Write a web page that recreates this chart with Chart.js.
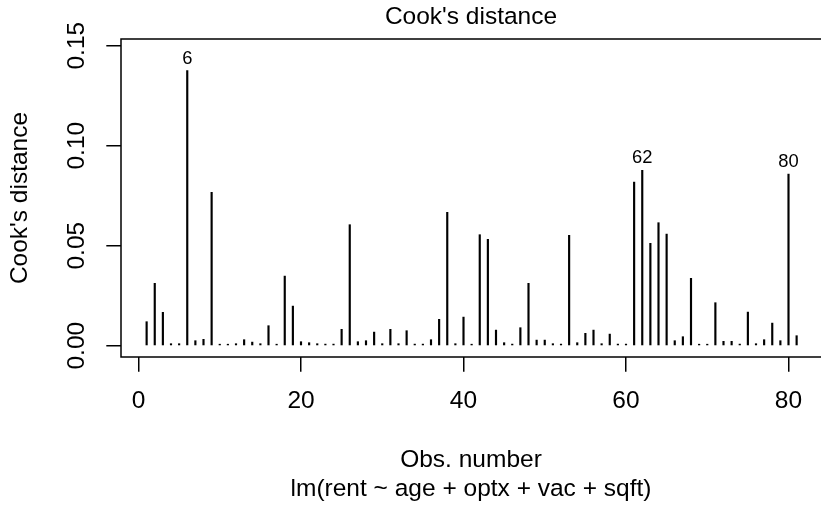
<!DOCTYPE html>
<html>
<head>
<meta charset="utf-8">
<script src="https://cdn.jsdelivr.net/npm/chart.js@4"></script>
<style>
  html, body { margin: 0; padding: 0; background: #fff; }
</style>
</head>
<body>
<canvas id="cook" width="821" height="505"></canvas>
<script>
/* Cook's distance plot, lm(rent ~ age + optx + vac + sqft) */

const obsNumber = [
  1, 2, 3, 4, 5, 6, 7, 8, 9, 10, 11, 12, 13, 14, 15, 16, 17, 18, 19, 20,
  21, 22, 23, 24, 25, 26, 27, 28, 29, 30, 31, 32, 33, 34, 35, 36, 37, 38, 39, 40,
  41, 42, 43, 44, 45, 46, 47, 48, 49, 50, 51, 52, 53, 54, 55, 56, 57, 58, 59, 60,
  61, 62, 63, 64, 65, 66, 67, 68, 69, 70, 71, 72, 73, 74, 75, 76, 77, 78, 79, 80, 81
];
const cooksDistance = [
  0.0120, 0.0312, 0.0167, 0.0010, 0.0010, 0.1375, 0.0025, 0.0032, 0.0767, 0.0005,
  0.0005, 0.0010, 0.0030, 0.0018, 0.0010, 0.0100, 0.0005, 0.0348, 0.0198, 0.0020,
  0.0015, 0.0010, 0.0008, 0.0008, 0.0082, 0.0605, 0.0020, 0.0025, 0.0068, 0.0010,
  0.0082, 0.0010, 0.0075, 0.0008, 0.0008, 0.0030, 0.0132, 0.0667, 0.0010, 0.0143,
  0.0005, 0.0555, 0.0532, 0.0078, 0.0015, 0.0008, 0.0090, 0.0312, 0.0028, 0.0028,
  0.0010, 0.0008, 0.0552, 0.0015, 0.0062, 0.0078, 0.0010, 0.0058, 0.0008, 0.0008,
  0.0818, 0.0877, 0.0512, 0.0615, 0.0558, 0.0025, 0.0045, 0.0337, 0.0005, 0.0005,
  0.0215, 0.0022, 0.0022, 0.0008, 0.0168, 0.0010, 0.0030, 0.0113, 0.0025, 0.0858,
  0.0050
];
const xTicks = [0, 20, 40, 60, 80];
const yTicks = [0, 0.05, 0.10, 0.15];
const idLabels = [6, 62, 80];
const mainTitle = "Cook's distance";
const xTitle = ['Obs. number', 'lm(rent ~ age + optx + vac + sqft)'];
const yTitle = "Cook's distance";

const FONT = '"Liberation Sans", Arial, Helvetica, sans-serif';
const FS = 24.5;       // R cex 1 at this resolution
const LINE = 29.4;     // one margin line

/* R-style box round the plot region (right side falls just off the canvas) */
const frame = {
  id: 'frame',
  afterDraw(chart) {
    const { ctx, chartArea: a } = chart;
    ctx.save();
    ctx.strokeStyle = '#000';
    ctx.lineWidth = 1.5;
    ctx.strokeRect(a.left, a.top, a.right - a.left + 3, a.bottom - a.top);
    ctx.restore();
  }
};

/* labels of the largest points */
const idText = {
  id: 'idText',
  afterDatasetsDraw(chart) {
    const ctx = chart.ctx;
    const xs = chart.scales.x, ys = chart.scales.y;
    ctx.save();
    ctx.font = (FS * 0.75) + 'px ' + FONT;
    ctx.fillStyle = '#000';
    ctx.textAlign = 'center';
    ctx.textBaseline = 'alphabetic';
    idLabels.forEach(n => {
      const i = obsNumber.indexOf(n);
      ctx.fillText(String(n), xs.getPixelForValue(n), ys.getPixelForValue(cooksDistance[i]) - 7);
    });
    ctx.restore();
  }
};

new Chart(document.getElementById('cook'), {
  type: 'bar',
  data: {
    datasets: [{
      data: obsNumber.map((x, i) => ({ x, y: cooksDistance[i] })),
      backgroundColor: '#000',
      borderWidth: 0,
      barThickness: 1.5,
      minBarLength: 1.5
    }]
  },
  options: {
    responsive: false,
    animation: false,
    devicePixelRatio: 1,
    layout: { padding: 0 },
    plugins: {
      legend: { display: false },
      tooltip: { enabled: false },
      title: {
        display: true,
        text: mainTitle,
        fullSize: false,
        color: '#000',
        font: { family: FONT, size: FS, weight: 'normal', lineHeight: 1.2 },
        padding: { top: 2.6, bottom: 7 }
      }
    },
    scales: {
      x: {
        type: 'linear',
        min: -2.154,
        max: 84.0,
        offset: false,
        afterBuildTicks: s => { s.ticks = xTicks.map(v => ({ value: v })); },
        afterFit: s => { s.height = 148; },
        border: { display: false },
        grid: { offset: false, drawOnChartArea: false, drawTicks: true, tickLength: LINE / 2, color: '#000', lineWidth: 1.5 },
        ticks: {
          color: '#000', autoSkip: false, maxRotation: 0, padding: 15,
          font: { family: FONT, size: FS, lineHeight: 1.2 },
          callback: v => String(v)
        },
        title: {
          display: true, text: xTitle, color: '#000',
          font: { family: FONT, size: FS, lineHeight: 1.2 },
          padding: { top: 0, bottom: 1 }
        }
      },
      y: {
        type: 'linear',
        min: -0.00565,
        max: 0.15335,
        afterBuildTicks: s => { s.ticks = yTicks.map(v => ({ value: v })); },
        afterFit: s => { s.width = 121; },
        border: { display: false },
        grid: { drawOnChartArea: false, drawTicks: true, tickLength: LINE / 2, color: '#000', lineWidth: 1.5 },
        ticks: {
          color: '#000', autoSkip: false, minRotation: 90, maxRotation: 90,
          crossAlign: 'center', padding: 5.3,
          font: { family: FONT, size: FS, lineHeight: 1.2 },
          callback: v => v.toFixed(2)
        },
        title: {
          display: true, text: yTitle, color: '#000',
          font: { family: FONT, size: FS, lineHeight: 1.2 },
          padding: { top: 5.5, bottom: 0 }
        }
      }
    }
  },
  plugins: [frame, idText]
});
</script>
</body>
</html>
